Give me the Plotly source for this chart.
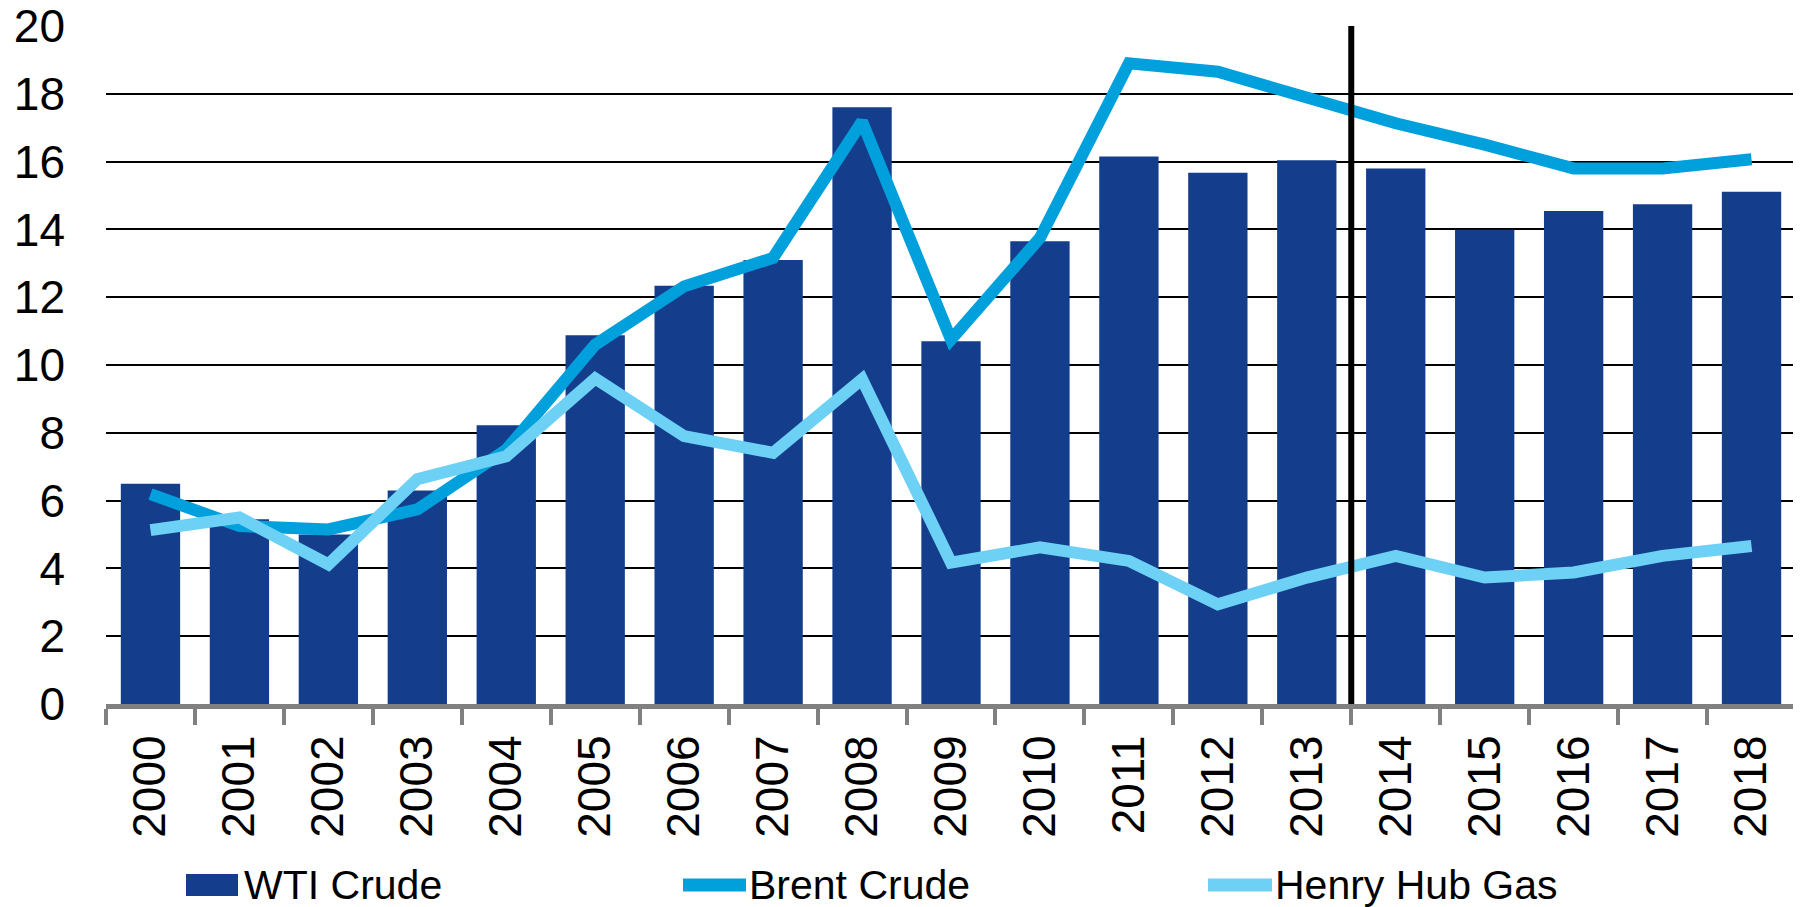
import plotly.graph_objects as go

# data
years = [str(y) for y in range(2000, 2019)]
wti_crude = [6.5, 5.45, 5.0, 6.3, 8.22, 10.88, 12.34, 13.1, 17.6, 10.7,
             13.65, 16.15, 15.67, 16.04, 15.8, 13.99, 14.54, 14.74, 15.11]
brent_crude = [6.19, 5.25, 5.15, 5.74, 7.5, 10.6, 12.32, 13.16, 17.18, 10.75,
               13.75, 18.9, 18.65, 17.87, 17.13, 16.5, 15.8, 15.8, 16.07]
henry_hub = [5.13, 5.5, 4.12, 6.63, 7.31, 9.6, 7.9, 7.41, 9.58, 4.17,
             4.62, 4.22, 2.94, 3.73, 4.37, 3.73, 3.88, 4.37, 4.66]
y_ticks = [0, 2, 4, 6, 8, 10, 12, 14, 16, 18, 20]
divider_after = "2013"

COLOR_WTI = "#143E8C"
COLOR_BRENT = "#00A0DC"
COLOR_HENRY = "#6DD0F5"
FONT = "Liberation Sans, Arial, sans-serif"

# the page body has an 8px margin, so the figure sits at (8, 8)
OFF = 8
W, H = 1801 - OFF, 907 - OFF
M_L, M_R, M_T, M_B = 106 - OFF, 5, 26 - OFF, 203


def px_x(px):
    # window pixel column -> paper x
    return (px - OFF - M_L) / (W - M_L - M_R)


def px_y(py):
    # window pixel row -> paper y
    return (H - M_B - (py - OFF)) / (H - M_T - M_B)


fig = go.Figure()

fig.add_trace(go.Bar(
    x=years, y=wti_crude, name="WTI Crude",
    marker=dict(color=COLOR_WTI, line=dict(width=0)),
    showlegend=False,
))
fig.add_trace(go.Scatter(
    x=years, y=brent_crude, name="Brent Crude", mode="lines",
    line=dict(color=COLOR_BRENT, width=12),
    showlegend=False,
))
fig.add_trace(go.Scatter(
    x=years, y=henry_hub, name="Henry Hub Gas", mode="lines",
    line=dict(color=COLOR_HENRY, width=12),
    showlegend=False,
))

# vertical divider between actuals and forecast
div_x = years.index(divider_after) + 0.5
fig.add_shape(type="line", xref="x", yref="y", x0=div_x, x1=div_x,
              y0=0, y1=max(y_ticks), line=dict(color="black", width=6),
              layer="above")

# legend drawn by hand so the swatches match the original size
legend_y = 885
legend_items = [
    ("WTI Crude", COLOR_WTI, "bar", 186, 238, 242),
    ("Brent Crude", COLOR_BRENT, "line", 683, 746, 747),
    ("Henry Hub Gas", COLOR_HENRY, "line", 1208, 1272, 1273),
]
for label, color, kind, sx0, sx1, tx in legend_items:
    if kind == "bar":
        fig.add_shape(type="rect", xref="paper", yref="paper",
                      x0=px_x(sx0), x1=px_x(sx1),
                      y0=px_y(legend_y - 11), y1=px_y(legend_y + 11),
                      fillcolor=color, line=dict(width=0))
    else:
        fig.add_shape(type="line", xref="paper", yref="paper",
                      x0=px_x(sx0), x1=px_x(sx1),
                      y0=px_y(legend_y), y1=px_y(legend_y),
                      line=dict(color=color, width=13))
    fig.add_annotation(text=label, xref="paper", yref="paper",
                       x=px_x(tx), y=px_y(legend_y), xanchor="left",
                       yanchor="middle", showarrow=False,
                       font=dict(size=41, color="black", family=FONT))

fig.update_layout(
    width=W,
    height=H,
    font=dict(family=FONT, size=46, color="black"),
    plot_bgcolor="white",
    paper_bgcolor="white",
    bargap=0.333,
    margin=dict(l=M_L, r=M_R, t=M_T, b=M_B, autoexpand=False),
    showlegend=False,
    xaxis=dict(
        type="category",
        automargin=False,
        tickangle=-90,
        tickson="boundaries",
        ticks="outside",
        ticklen=16,
        tickwidth=4,
        tickcolor="#808080",
        showline=True,
        linecolor="#808080",
        linewidth=5,
        showgrid=False,
        ticklabelstandoff=8,
        tickfont=dict(size=46),
    ),
    yaxis=dict(
        range=[0, 20],
        automargin=False,
        tickvals=y_ticks,
        showgrid=True,
        gridcolor="black",
        gridwidth=2,
        zeroline=False,
        showline=False,
        ticks="",
        ticklabelstandoff=40,
        ticklabeloverflow="allow",
        tickfont=dict(size=46),
    ),
)

fig.write_html("out.html")
